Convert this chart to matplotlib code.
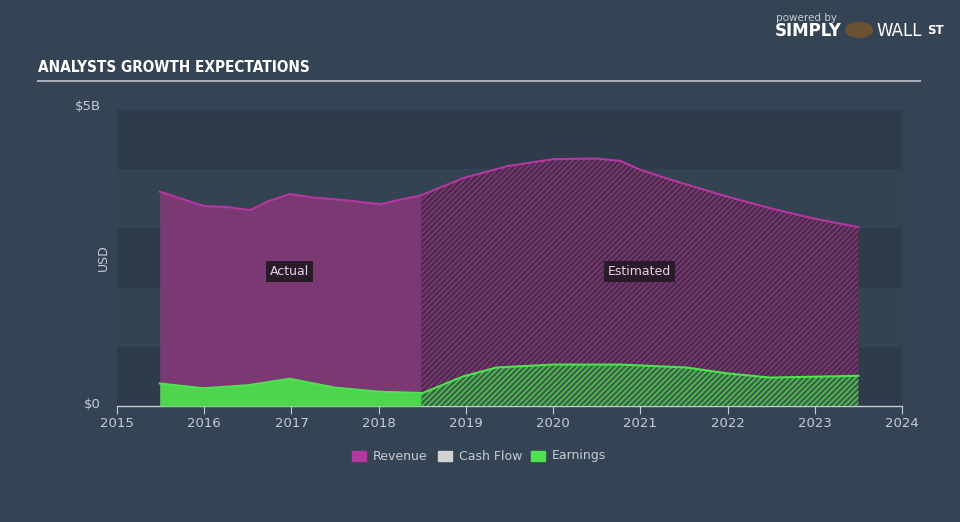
import matplotlib.pyplot as plt

# values (billions USD)
act_years = [2015.49, 2015.99, 2016.26, 2016.53, 2016.72, 2016.98, 2017.25, 2017.59, 2018.02, 2018.17, 2018.49]
act_revenue = [3.62, 3.38, 3.36, 3.31, 3.45, 3.58, 3.52, 3.48, 3.41, 3.46, 3.56]
act_earn_years = [2015.49, 2015.99, 2016.5, 2016.98, 2017.5, 2018.02, 2018.49]
act_earnings = [0.38, 0.30, 0.35, 0.46, 0.31, 0.24, 0.22]

est_years = [2018.49, 2018.97, 2019.47, 2020.0, 2020.5, 2020.77, 2021.0, 2021.42, 2021.99, 2022.49, 2022.98, 2023.5]
est_revenue = [3.56, 3.85, 4.05, 4.17, 4.18, 4.14, 3.99, 3.79, 3.54, 3.34, 3.17, 3.02]
est_earn_years = [2018.49, 2018.97, 2019.35, 2020.0, 2020.77, 2021.53, 2022.0, 2022.49, 2023.5]
est_earnings = [0.21, 0.50, 0.65, 0.70, 0.70, 0.65, 0.55, 0.48, 0.51]

year_ticks = list(range(2015, 2025))

bg = '#344454'
rev_line = '#b5379f'
rev_fill = '#7b3974'
earn_line = '#4fe24f'
earn_fill = '#4fd44f'
txt = '#c8ccd1'

plt.rcParams['hatch.linewidth'] = 1.1
fig = plt.figure(figsize=(9.6, 5.22), dpi=100, facecolor=bg)
ax = fig.add_axes([117/960, 1-406/522, (902-117)/960, 296/522])
ax.set_facecolor(bg)
ax.set_xlim(2015, 2024)
ax.set_ylim(0, 5)

# alternating background bands
for i in range(5):
    c = '#2e3b4a' if i % 2 == 0 else '#344352'
    ax.axhspan(i, i+1, color=c, zorder=0, lw=0)

# actual
ax.fill_between(act_years, 0, act_revenue, color=rev_fill, lw=0, zorder=2)
ax.plot(act_years, act_revenue, color=rev_line, lw=1.5, zorder=4)
ax.fill_between(act_earn_years, 0, act_earnings, color=earn_fill, lw=0, zorder=3)
ax.plot(act_earn_years, act_earnings, color=earn_line, lw=1.5, zorder=4)

# estimated (hatched)
ax.fill_between(est_years, 0, est_revenue, facecolor='#4c2a4c', edgecolor='#7e3a77',
                hatch='//////', lw=0, zorder=2)
ax.plot(est_years, est_revenue, color=rev_line, lw=1.5, zorder=4)
ax.fill_between(est_earn_years, 0, est_earnings, facecolor='#3a6248', edgecolor='#52c452',
                hatch='//////', lw=0, zorder=3)
ax.plot(est_earn_years, est_earnings, color=earn_line, lw=1.5, zorder=4)

for s in ['top', 'right', 'left']:
    ax.spines[s].set_visible(False)
ax.spines['bottom'].set_color('#c8ccd1')
ax.spines['bottom'].set_linewidth(1)
ax.set_xticks(year_ticks)
ax.set_xticklabels([str(y) for y in year_ticks])
ax.tick_params(axis='x', colors='#c8ccd1', labelcolor=txt, labelsize=9.5, length=6, pad=2)
ax.set_yticks([])

fig.text(101/960, 1-107/522, '$5B', color=txt, fontsize=9.5, ha='right', va='center')
fig.text(101/960, 1-404/522, '$0', color=txt, fontsize=9.5, ha='right', va='center')
fig.text(103/960, 1-258/522, 'USD', color=txt, fontsize=9, rotation=90, ha='center', va='center')

box = dict(boxstyle='square,pad=0.3', fc='#2b1a2c', ec='none')
ax.text(2016.98, 2.27, 'Actual', color='#e0d8e0', fontsize=9, ha='center', va='center', bbox=box, zorder=6)
ax.text(2020.99, 2.27, 'Estimated', color='#e0d8e0', fontsize=9, ha='center', va='center', bbox=box, zorder=6)

# title and rule
fig.text(38/960, 1-68/522, 'ANALYSTS GROWTH EXPECTATIONS', color='white', fontsize=11,
         fontweight='bold', fontstretch='condensed', family=['DejaVu Sans'], va='center', ha='left')
fig.add_artist(plt.Line2D([38/960, 920/960], [1-81/522, 1-81/522], color='#a9afb6', lw=1.5))

# logo text
fig.text(806/960, 1-18/522, 'powered by', color='#c8ccd1', fontsize=7.5, ha='center', va='center')
fig.text(842/960, 1-31/522, 'SIMPLY', color='white', fontsize=12, fontweight='bold', ha='right', va='center')
fig.text(876/960, 1-31/522, 'WALL', color='white', fontsize=12, ha='left', va='center')
fig.text(927/960, 1-30/522, 'ST', color='white', fontsize=8.5, fontweight='bold', ha='left', va='center')
fig.add_artist(plt.Circle((859/960, 1-30/522), 0.014, transform=fig.transFigure, color='#6a5232'))

# legend
items = [('Revenue', '#b03a9e', 352), ('Cash Flow', '#d3d3d3', 438), ('Earnings', '#4fe24f', 531)]
for label, col, x in items:
    fig.add_artist(plt.Rectangle((x/960, 1-461/522), 14/960, 10/522, transform=fig.transFigure,
                                 color=col))
    fig.text((x+21)/960, 1-456/522, label, color=txt, fontsize=9, va='center', ha='left')

fig.savefig('out.png', dpi=100, facecolor=bg)
